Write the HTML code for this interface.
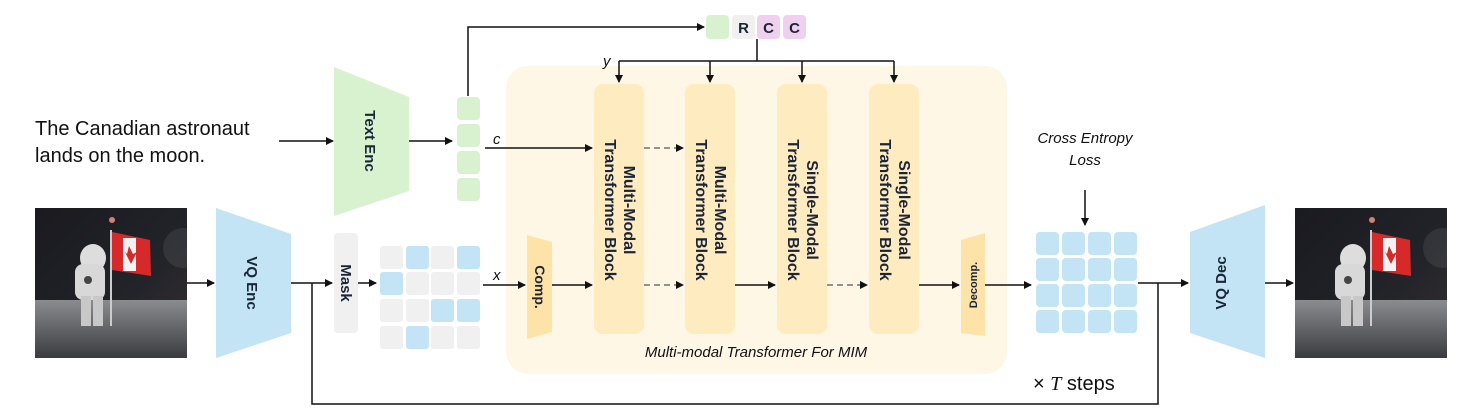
<!DOCTYPE html>
<html><head><meta charset="utf-8"><style>
html,body{margin:0;padding:0;background:#fff;}
svg{display:block;}
.b{font-family:"Liberation Sans",sans-serif;font-weight:bold;fill:#1b2538;}
.i{font-family:"Liberation Sans",sans-serif;font-style:italic;fill:#111;}
</style></head><body>
<svg width="1478" height="420" viewBox="0 0 1478 420" xmlns="http://www.w3.org/2000/svg">
<defs>
<marker id="a" markerWidth="8" markerHeight="8" refX="7" refY="4" orient="auto" markerUnits="userSpaceOnUse"><path d="M0,0 L8,4 L0,8 z" fill="#111"/></marker>
<linearGradient id="sky" x1="0" y1="0" x2="1" y2="1"><stop offset="0" stop-color="#1a1a1f"/><stop offset="0.6" stop-color="#22242a"/><stop offset="1" stop-color="#3a3030"/></linearGradient>
<linearGradient id="gr" x1="0" y1="0" x2="0" y2="1"><stop offset="0" stop-color="#8a8c90"/><stop offset="1" stop-color="#3a3b3e"/></linearGradient>
<g id="img">
<rect width="152" height="150" fill="url(#sky)"/>
<circle cx="77" cy="12" r="3" fill="#ff9a8a" opacity="0.8"/>
<circle cx="148" cy="40" r="20" fill="#ffffff" opacity="0.08"/>
<rect y="92" width="152" height="58" fill="url(#gr)"/>
<rect x="75" y="22" width="2" height="96" fill="#ccc"/>
<path d="M77,24 L115,32 L116,68 L77,62 z" fill="#d62a2a"/>
<rect x="88" y="30" width="13" height="33" fill="#f2f2f2"/>
<path d="M94,38 L98,46 L102,44 L96,56 L90,44 L92,46 z" fill="#d62a2a"/>
<ellipse cx="58" cy="50" rx="13" ry="14" fill="#ddd"/>
<rect x="40" y="56" width="30" height="36" rx="8" fill="#d8d8d8"/>
<rect x="46" y="88" width="10" height="30" fill="#c8c8c8"/>
<rect x="58" y="88" width="10" height="30" fill="#c8c8c8"/>
<circle cx="53" cy="72" r="4" fill="#444"/>
</g>
</defs>

<rect x="506" y="66" width="501" height="308" rx="22" fill="#fef7e6"/>

<text x="35" y="135" font-family="'Liberation Sans',sans-serif" font-size="20" fill="#111">The Canadian astronaut</text>
<text x="35" y="162" font-family="'Liberation Sans',sans-serif" font-size="20" fill="#111">lands on the moon.</text>
<line x1="279" y1="141" x2="333" y2="141" stroke="#111" stroke-width="1.5" marker-end="url(#a)"/>

<polygon points="334,67 409,97 409,191 334,216" fill="#d8f2d0"/>
<text class="b" font-size="15" transform="translate(365,141) rotate(90)" text-anchor="middle">Text Enc</text>
<line x1="409" y1="141" x2="452" y2="141" stroke="#111" stroke-width="1.5" marker-end="url(#a)"/>

<rect x="457" y="97" width="23" height="23" rx="4" fill="#d8f2d0"/>
<rect x="457" y="124" width="23" height="23" rx="4" fill="#d8f2d0"/>
<rect x="457" y="151" width="23" height="23" rx="4" fill="#d8f2d0"/>
<rect x="457" y="178" width="23" height="23" rx="4" fill="#d8f2d0"/>
<polyline points="468,96 468,27 704,27" fill="none" stroke="#111" stroke-width="1.5" marker-end="url(#a)"/>

<rect x="706" y="15" width="23" height="24" rx="4" fill="#d8f2d0"/>
<rect x="732" y="15" width="23" height="24" rx="4" fill="#f0f0f0"/>
<rect x="757" y="15" width="23" height="24" rx="4" fill="#efd0ef"/>
<rect x="783" y="15" width="23" height="24" rx="4" fill="#efd0ef"/>
<text class="b" x="743.5" y="33" font-size="15" text-anchor="middle" fill="#111">R</text>
<text class="b" x="768.5" y="33" font-size="15" text-anchor="middle" fill="#111">C</text>
<text class="b" x="794.5" y="33" font-size="15" text-anchor="middle" fill="#111">C</text>

<line x1="757" y1="39" x2="757" y2="61" stroke="#111" stroke-width="1.5"/>
<line x1="619" y1="61" x2="894" y2="61" stroke="#111" stroke-width="1.5"/>
<line x1="619" y1="61" x2="619" y2="82" stroke="#111" stroke-width="1.5" marker-end="url(#a)"/>
<line x1="710" y1="61" x2="710" y2="82" stroke="#111" stroke-width="1.5" marker-end="url(#a)"/>
<line x1="802" y1="61" x2="802" y2="82" stroke="#111" stroke-width="1.5" marker-end="url(#a)"/>
<line x1="894" y1="61" x2="894" y2="82" stroke="#111" stroke-width="1.5" marker-end="url(#a)"/>
<text class="i" x="603" y="66" font-size="15">y</text>

<line x1="485" y1="148" x2="592" y2="148" stroke="#111" stroke-width="1.5" marker-end="url(#a)"/>
<text class="i" x="493" y="144" font-size="15">c</text>

<rect x="594" y="84" width="50" height="250" rx="9" fill="#feebc0"/>
<rect x="685" y="84" width="50" height="250" rx="9" fill="#feebc0"/>
<rect x="777" y="84" width="50" height="250" rx="9" fill="#feebc0"/>
<rect x="869" y="84" width="50" height="250" rx="9" fill="#feebc0"/>
<g font-size="16">
<text class="b" transform="translate(624,210) rotate(90)" text-anchor="middle">Multi-Modal</text>
<text class="b" transform="translate(605,210) rotate(90)" text-anchor="middle">Transformer Block</text>
<text class="b" transform="translate(715,210) rotate(90)" text-anchor="middle">Multi-Modal</text>
<text class="b" transform="translate(696,210) rotate(90)" text-anchor="middle">Transformer Block</text>
<text class="b" transform="translate(807,210) rotate(90)" text-anchor="middle">Single-Modal</text>
<text class="b" transform="translate(788,210) rotate(90)" text-anchor="middle">Transformer Block</text>
<text class="b" transform="translate(899,210) rotate(90)" text-anchor="middle">Single-Modal</text>
<text class="b" transform="translate(880,210) rotate(90)" text-anchor="middle">Transformer Block</text>
</g>
<line x1="644" y1="148" x2="683" y2="148" stroke="#555" stroke-width="1.3" stroke-dasharray="6,4" marker-end="url(#a)"/>

<use href="#img" x="35" y="208"/>
<line x1="187" y1="283" x2="214" y2="283" stroke="#111" stroke-width="1.5" marker-end="url(#a)"/>
<polygon points="216,208 291,234 291,333 216,358" fill="#c2e4f4"/>
<text class="b" font-size="15" transform="translate(247,283) rotate(90)" text-anchor="middle">VQ Enc</text>
<line x1="291" y1="283" x2="332" y2="283" stroke="#111" stroke-width="1.5" marker-end="url(#a)"/>
<rect x="334" y="233" width="24" height="100" rx="4" fill="#f0f0f0"/>
<text class="b" font-size="15" transform="translate(341,283) rotate(90)" text-anchor="middle">Mask</text>
<line x1="358" y1="283" x2="376" y2="283" stroke="#111" stroke-width="1.5" marker-end="url(#a)"/>

<g>
<rect x="380" y="246" width="23" height="23" rx="3" fill="#f0f0f0"/><rect x="406" y="246" width="23" height="23" rx="3" fill="#c2e4f4"/><rect x="431" y="246" width="23" height="23" rx="3" fill="#f0f0f0"/><rect x="457" y="246" width="23" height="23" rx="3" fill="#c2e4f4"/>
<rect x="380" y="272" width="23" height="23" rx="3" fill="#c2e4f4"/><rect x="406" y="272" width="23" height="23" rx="3" fill="#f0f0f0"/><rect x="431" y="272" width="23" height="23" rx="3" fill="#f0f0f0"/><rect x="457" y="272" width="23" height="23" rx="3" fill="#f0f0f0"/>
<rect x="380" y="299" width="23" height="23" rx="3" fill="#f0f0f0"/><rect x="406" y="299" width="23" height="23" rx="3" fill="#f0f0f0"/><rect x="431" y="299" width="23" height="23" rx="3" fill="#c2e4f4"/><rect x="457" y="299" width="23" height="23" rx="3" fill="#c2e4f4"/>
<rect x="380" y="326" width="23" height="23" rx="3" fill="#f0f0f0"/><rect x="406" y="326" width="23" height="23" rx="3" fill="#c2e4f4"/><rect x="431" y="326" width="23" height="23" rx="3" fill="#f0f0f0"/><rect x="457" y="326" width="23" height="23" rx="3" fill="#f0f0f0"/>
</g>
<line x1="483" y1="285" x2="525" y2="285" stroke="#111" stroke-width="1.5" marker-end="url(#a)"/>
<text class="i" x="493" y="280" font-size="15">x</text>

<polygon points="527,235 552,242 552,332 527,339" fill="#fde3a8"/>
<text class="b" font-size="14" transform="translate(535,287) rotate(90)" text-anchor="middle">Comp.</text>
<line x1="552" y1="285" x2="592" y2="285" stroke="#111" stroke-width="1.5" marker-end="url(#a)"/>
<line x1="644" y1="285" x2="683" y2="285" stroke="#555" stroke-width="1.3" stroke-dasharray="6,4" marker-end="url(#a)"/>
<line x1="735" y1="285" x2="775" y2="285" stroke="#111" stroke-width="1.5" marker-end="url(#a)"/>
<line x1="827" y1="285" x2="867" y2="285" stroke="#555" stroke-width="1.3" stroke-dasharray="6,4" marker-end="url(#a)"/>
<line x1="919" y1="285" x2="959" y2="285" stroke="#111" stroke-width="1.5" marker-end="url(#a)"/>

<polygon points="961,240 985,233 985,336 961,333" fill="#fde3a8"/>
<text class="b" font-size="11" transform="translate(977,285) rotate(-90)" text-anchor="middle">Decomp.</text>
<line x1="985" y1="285" x2="1031" y2="285" stroke="#111" stroke-width="1.5" marker-end="url(#a)"/>

<text class="i" x="756" y="357" font-size="15" text-anchor="middle">Multi-modal Transformer For MIM</text>

<g fill="#c2e4f4">
<rect x="1036" y="232" width="23" height="23" rx="4"/><rect x="1062" y="232" width="23" height="23" rx="4"/><rect x="1088" y="232" width="23" height="23" rx="4"/><rect x="1114" y="232" width="23" height="23" rx="4"/>
<rect x="1036" y="258" width="23" height="23" rx="4"/><rect x="1062" y="258" width="23" height="23" rx="4"/><rect x="1088" y="258" width="23" height="23" rx="4"/><rect x="1114" y="258" width="23" height="23" rx="4"/>
<rect x="1036" y="284" width="23" height="23" rx="4"/><rect x="1062" y="284" width="23" height="23" rx="4"/><rect x="1088" y="284" width="23" height="23" rx="4"/><rect x="1114" y="284" width="23" height="23" rx="4"/>
<rect x="1036" y="310" width="23" height="23" rx="4"/><rect x="1062" y="310" width="23" height="23" rx="4"/><rect x="1088" y="310" width="23" height="23" rx="4"/><rect x="1114" y="310" width="23" height="23" rx="4"/>
</g>

<text class="i" x="1085" y="143" font-size="15" text-anchor="middle">Cross Entropy</text>
<text class="i" x="1085" y="165" font-size="15" text-anchor="middle">Loss</text>
<line x1="1085" y1="190" x2="1085" y2="225" stroke="#111" stroke-width="1.5" marker-end="url(#a)"/>

<line x1="1138" y1="283" x2="1188" y2="283" stroke="#111" stroke-width="1.5" marker-end="url(#a)"/>
<polygon points="1190,232 1265,205 1265,358 1190,333" fill="#c2e4f4"/>
<text class="b" font-size="15" transform="translate(1226,283) rotate(-90)" text-anchor="middle">VQ Dec</text>
<line x1="1265" y1="283" x2="1293" y2="283" stroke="#111" stroke-width="1.5" marker-end="url(#a)"/>
<use href="#img" x="1295" y="208"/>

<polyline points="312,283 312,404 1158,404 1158,283" fill="none" stroke="#111" stroke-width="1.5"/>
<text x="1033" y="390" font-family="'Liberation Sans',sans-serif" font-size="20" fill="#111">× <tspan font-family="'Liberation Serif',serif" font-style="italic">T</tspan>  steps</text>
</svg>
</body></html>
